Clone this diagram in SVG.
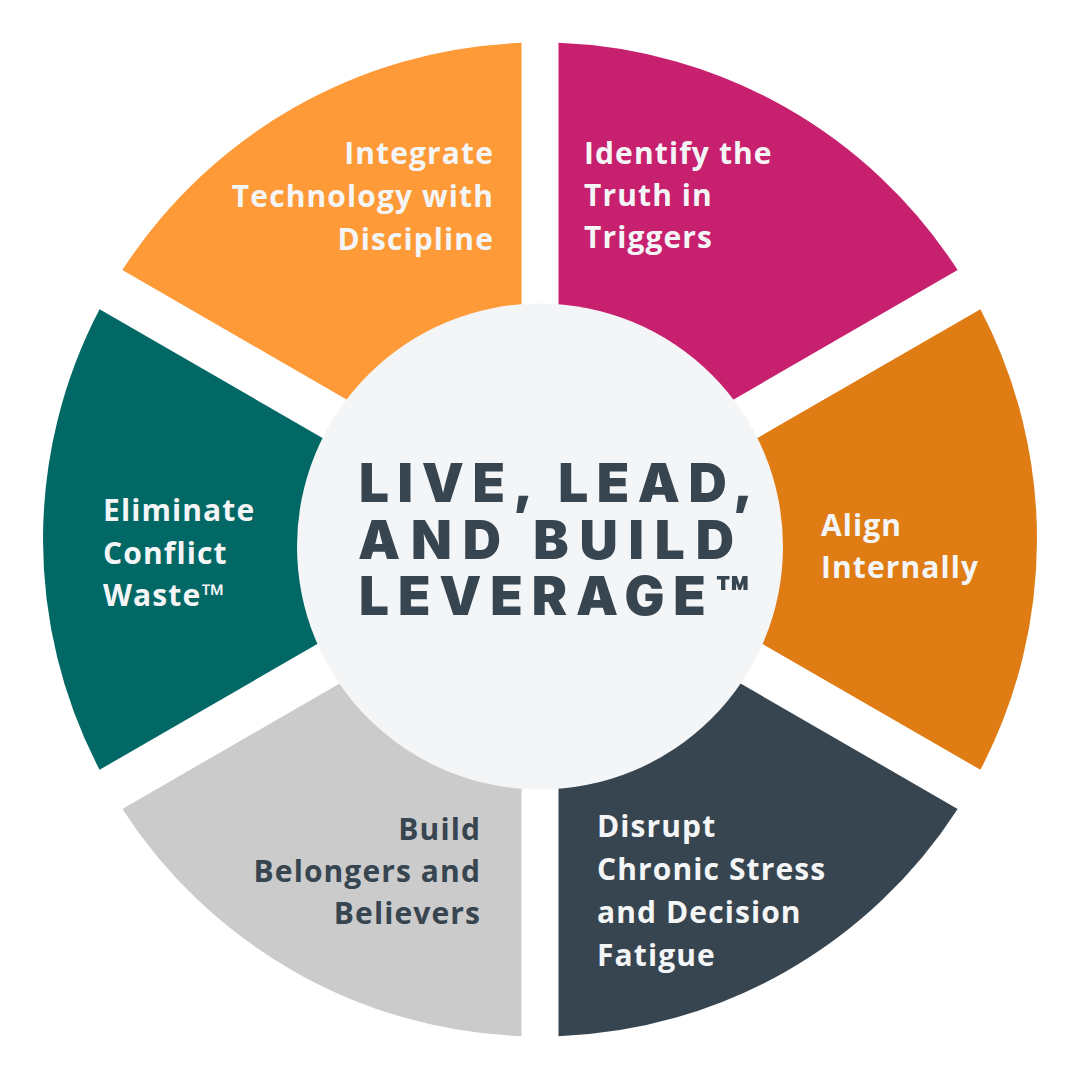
<svg xmlns="http://www.w3.org/2000/svg" width="1080" height="1080" viewBox="0 0 1080 1080">
  <style>
    .lbl { font-family: "Open Sans", "Liberation Sans", sans-serif; font-weight: 700; font-size: 30px; letter-spacing: 1.1px; fill: #F4F5F7; }
    .dark { fill: #374550; }
    .end { text-anchor: end; }
    .title { font-family: Inter, "Open Sans", "Liberation Sans", sans-serif; font-weight: 900; font-size: 53px; fill: #374550; }
  </style>
  <rect width="1080" height="1080" fill="#FFFFFF"/>
  <g id="segment-integrate">
    <path d="M 521.5 500.53 L 122.37 270.08 A 497 497 0 0 1 521.5 42.84 Z" fill="#FE9A37"/>
    <text class="lbl end" x="494" y="164">Integrate</text>
    <text class="lbl end" x="494" y="207">Technology with</text>
    <text class="lbl end" x="494" y="250">Discipline</text>
  </g>
  <g id="segment-identify">
    <path d="M 558.5 500.53 L 558.5 42.84 A 497 497 0 0 1 957.63 270.08 Z" fill="#C7206F"/>
    <text class="lbl" x="584" y="164">Identify the</text>
    <text class="lbl" x="584" y="206">Truth in</text>
    <text class="lbl" x="584" y="248">Triggers</text>
  </g>
  <g id="segment-align">
    <path d="M 581.6 539.5 L 980.42 309.23 A 497 497 0 0 1 980.42 769.77 Z" fill="#E07C14"/>
    <text class="lbl" x="821" y="536">Align</text>
    <text class="lbl" x="821" y="578">Internally</text>
  </g>
  <g id="segment-disrupt">
    <path d="M 558.5 578.47 L 957.63 808.92 A 497 497 0 0 1 558.5 1036.16 Z" fill="#374550"/>
    <text class="lbl" x="597" y="837">Disrupt</text>
    <text class="lbl" x="597" y="880">Chronic Stress</text>
    <text class="lbl" x="597" y="923">and Decision</text>
    <text class="lbl" x="597" y="966">Fatigue</text>
  </g>
  <g id="segment-build">
    <path d="M 521.5 578.47 L 521.5 1036.16 A 497 497 0 0 1 122.37 808.92 Z" fill="#CBCBCB"/>
    <text class="lbl dark end" x="481" y="840">Build</text>
    <text class="lbl dark end" x="481" y="882">Belongers and</text>
    <text class="lbl dark end" x="481" y="924">Believers</text>
  </g>
  <g id="segment-eliminate">
    <path d="M 498.4 539.5 L 99.58 769.77 A 497 497 0 0 1 99.58 309.23 Z" fill="#026865"/>
    <text class="lbl" x="103" y="521">Eliminate</text>
    <text class="lbl" x="103" y="564">Conflict</text>
    <text class="lbl" x="103" y="606">Waste™</text>
  </g>
  <g id="center">
    <circle cx="540" cy="546.5" r="243" fill="#F4F5F7"/>
    <text class="title" x="359" y="502" textLength="394" lengthAdjust="spacing">LIVE, LEAD,</text>
    <text class="title" x="358" y="559" textLength="376" lengthAdjust="spacing">AND BUILD</text>
    <text class="title" x="359" y="615" textLength="391" lengthAdjust="spacing">LEVERAGE™</text>
  </g>
  <g id="connectors"></g>
</svg>
